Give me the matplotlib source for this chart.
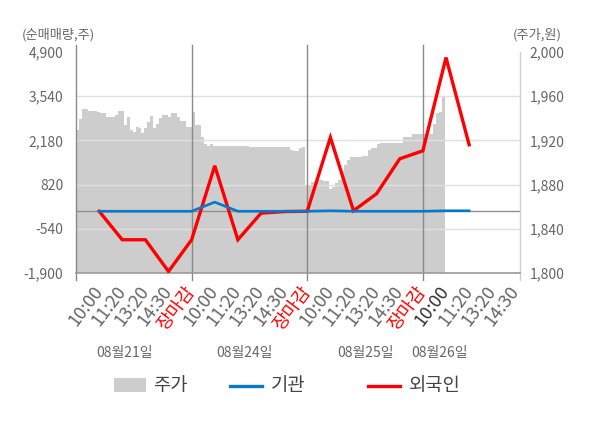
import matplotlib
matplotlib.use('Agg')
import matplotlib.pyplot as plt
import numpy as np
from matplotlib.patches import Rectangle
from matplotlib.lines import Line2D
import matplotlib.transforms as mtrans

plt.rcParams['font.family'] = ['Noto Sans CJK KR', 'DejaVu Sans']

# ---------------- data ----------------
tick_labels = ['10:00', '11:20', '13:20', '14:30', '장마감',
               '10:00', '11:20', '13:20', '14:30', '장마감',
               '10:00', '11:20', '13:20', '14:30', '장마감',
               '10:00', '11:20', '13:20', '14:30']
date_labels = ['08월21일', '08월24일', '08월25일', '08월26일']

# net buying (shares) at tick positions 1..17
foreign = [0, -877, -877, -1852, -877, 1400, -877, -60, -10,
           0, 2270, 15, 540, 1615, 1860, 4730, 2045]
institution = [0, 0, 0, 0, 0, 280, 0, 0, 0,
               0, 15, 0, 0, 0, 0, 15, 15]

# stock price (won), intraday samples from day 1 open to day 4 morning
price = [1929, 1939, 1948, 1948, 1947, 1947, 1947, 1946, 1945, 1945,
         1941, 1941, 1941, 1943, 1947, 1947, 1934, 1941, 1929, 1928,
         1932, 1931, 1927, 1931, 1937, 1942, 1931, 1935, 1940, 1943,
         1943, 1941, 1945, 1945, 1941, 1938, 1938, 1932, 1932, 1946,
         1934, 1934, 1923, 1917, 1915, 1917, 1915, 1915, 1915, 1915,
         1915, 1915, 1915, 1915, 1915, 1915, 1915, 1915, 1914, 1914,
         1914, 1914, 1914, 1914, 1914, 1914, 1914, 1914, 1914, 1914,
         1914, 1914, 1911, 1910, 1910, 1913, 1914, 1880, 1880, 1882,
         1882, 1884, 1884, 1883, 1883, 1876, 1878, 1881, 1884, 1892,
         1898, 1902, 1905, 1905, 1905, 1905, 1906, 1906, 1911, 1913,
         1913, 1917, 1918, 1918, 1918, 1918, 1918, 1918, 1918, 1918,
         1923, 1923, 1923, 1926, 1926, 1926, 1926, 1926, 1926, 1926,
         1935, 1945, 1946, 1960]

left_ticks = [-1900, -540, 820, 2180, 3540, 4900]
right_ticks = [1800, 1840, 1880, 1920, 1960, 2000]
day_bounds = [5, 10, 15]

# ---------------- figure ----------------
W, H = 600, 428
fig = plt.figure(figsize=(W / 100, H / 100), dpi=100)
L, R, T, B = 76, 520, 52, 273
ax = fig.add_axes([L / W, 1 - B / H, (R - L) / W, (B - T) / H])
ax2 = ax.twinx()
ax.set_zorder(2)
ax2.set_zorder(1)
ax.patch.set_visible(False)
ax2.patch.set_facecolor('#f4f4f4')

XMAX = 19.2
ax.set_xlim(0, XMAX)
ax.set_ylim(-1900, 4900)
ax2.set_ylim(1800, 2000)

# price area
n = len(price)
end = 15.96
px = np.arange(n + 1) * (end / n)
pv = list(price) + [price[-1]]
ax2.fill_between(px, pv, 1800, step='post', color='#cdcdcd', lw=0)

# grid lines
for v in left_ticks[1:-1]:
    ax.axhline(v, color='#e0e0e0', lw=1.0, zorder=1)
ax.axhline(0, color='#8f8f8f', lw=1.0, zorder=1.5)

# vertical separators (extend slightly beyond plot area)
trans = mtrans.blended_transform_factory(ax.transData, ax.transAxes)
y0 = -(280 - B) / (B - T)
y1 = 1 + (T - 45) / (B - T)
for d in [0] + day_bounds:
    ax.plot([d, d], [y0, y1], color='#8a8a8a', lw=1.0, transform=trans,
            clip_on=False, zorder=1.6)
ax.plot([XMAX, XMAX], [y0, 1], color='#cfcfcf', lw=1.0, transform=trans,
        clip_on=False, zorder=1.6)

# lines
xs = np.arange(1, len(foreign) + 1)
ax.plot(xs, foreign, color='#ff0000', lw=2.4, zorder=3, solid_joinstyle='miter')
ax.plot(xs, institution, color='#0a78c8', lw=1.9, zorder=4)

# spines
for a in (ax, ax2):
    for s in a.spines.values():
        s.set_visible(False)
ax.spines['bottom'].set_visible(True)
ax.spines['bottom'].set_color('#9a9a9a')
ax.spines['bottom'].set_linewidth(1.2)

# y ticks
ax.set_yticks(left_ticks)
ax.set_yticklabels([f'{v:,}' for v in left_ticks])
ax2.set_yticks(right_ticks)
ax2.set_yticklabels([f'{v:,}' for v in right_ticks])
ax.tick_params(axis='y', length=0, pad=9, labelsize=10, labelcolor='#666666')
ax2.tick_params(axis='y', length=0, pad=7, labelsize=10, labelcolor='#666666')

# x ticks
ax.set_xticks(range(1, len(tick_labels) + 1))
ax.set_xticklabels(tick_labels)
ax.tick_params(axis='x', length=0, pad=11, labelsize=13, labelcolor='#666666')
for i, t in enumerate(ax.get_xticklabels()):
    t.set_rotation(53)
    t.set_ha('right')
    t.set_va('center')
    t.set_rotation_mode('anchor')
    if tick_labels[i] == '장마감':
        t.set_color('#ff0000')
    if i == 15:
        t.set_color('#333333')

# date labels
date_pos = [2.1, 7.3, 12.5, 15.7]
tdate = mtrans.blended_transform_factory(ax.transData, fig.transFigure)
for p, s in zip(date_pos, date_labels):
    fig.text(p, 1 - 353 / H, s, transform=tdate, ha='center', va='center',
             fontsize=10, color='#666666')

# axis titles
fig.text(22 / W, 1 - 35 / H, '(순매매량,주)', ha='left', va='center',
         fontsize=9.5, color='#666666')
fig.text(562 / W, 1 - 35 / H, '(주가,원)', ha='right', va='center',
         fontsize=9.5, color='#666666')

# legend (manual)
fy = 1 - 386 / H
fig.add_artist(Rectangle((114 / W, 1 - 392 / H), 32 / W, 14 / H,
                         transform=fig.transFigure, color='#cdcdcd', lw=0))
fig.text(153 / W, fy, '주가', ha='left', va='center', fontsize=13.5, color='#444444')
fig.add_artist(Line2D([230 / W, 262 / W], [fy, fy], transform=fig.transFigure,
                      color='#0a78c8', lw=2.4))
fig.text(271 / W, fy, '기관', ha='left', va='center', fontsize=13.5, color='#444444')
fig.add_artist(Line2D([368 / W, 400 / W], [fy, fy], transform=fig.transFigure,
                      color='#ff0000', lw=2.4))
fig.text(409 / W, fy, '외국인', ha='left', va='center', fontsize=13.5, color='#444444')

fig.savefig('out.png', dpi=100)
